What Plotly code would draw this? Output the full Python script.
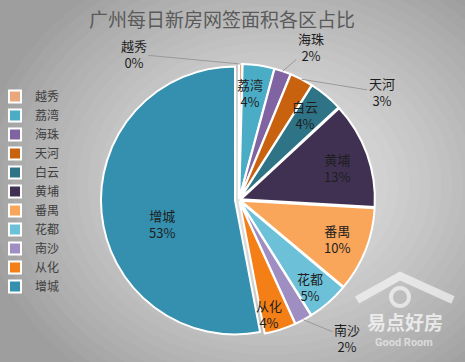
import math
import plotly.graph_objects as go

# ---- data ----
districts = ["越秀", "荔湾", "海珠", "天河", "白云", "黄埔", "番禺", "花都", "南沙", "从化", "增城"]
shares = [0.4, 3.8, 2.0, 2.8, 4.1, 12.8, 10.2, 5.0, 2.1, 3.8, 53.0]
colors = ["#E8A87C", "#4BACC6", "#8064A2", "#C8620F", "#2E7486", "#403152",
          "#F9A65A", "#6CC1D8", "#9F8EC2", "#F57F17", "#3490AE"]
title_text = "广州每日新房网签面积各区占比"

# ---- layout geometry / styling ----
W, H = 465, 362
CX, CY = 239, 200          # pie centre in px (from top-left)
R = 134                    # pie radius in px
MAXPULL = 0.03
pulls = [0.03 if d == "增城" else 0.015 for d in districts]
half = R * (1 + MAXPULL)
dom_x = [(CX - half) / W, (CX + half) / W]
dom_y = [1 - (CY + half) / H, 1 - (CY - half) / H]

# label placement: (radius fraction, angle offset deg) for inside labels
inside_place = {"荔湾": (0.80, -2.4), "白云": (0.80, -2), "黄埔": (0.77, 2), "番禺": (0.79, 0),
                "花都": (0.84, 2), "从化": (0.88, 3), "增城": (0.60, -12)}
# outside labels: pixel offset of text from slice edge
outside_place = {"越秀": (-107, -10), "海珠": (28, -24), "天河": (80, 13), "南沙": (44, 18)}

total = sum(shares)
fig = go.Figure()

# background radial gradient
fig.add_shape(type="rect", xref="paper", yref="paper", x0=0, x1=1, y0=0, y1=1,
              fillcolor="#9E9E9E", line_width=0, layer="below")
gx, gy, rx, ry = 270, 185, 300, 250
N = 28
for i in range(N):
    t = 1 - i / N
    c0, c1 = 0xE4, 0x9E
    v = int(round(c1 + (c0 - c1) * (1 - t ** 1.4)))
    col = "#%02X%02X%02X" % (v, v, v)
    fig.add_shape(type="circle", xref="paper", yref="paper",
                  x0=(gx - rx * t) / W, x1=(gx + rx * t) / W,
                  y0=1 - (gy + ry * t) / H, y1=1 - (gy - ry * t) / H,
                  fillcolor=col, line_width=0, layer="below")

# watermark logo (roof + eye)
roof = [(357, 300), (400, 276), (453, 300)]
path = "M " + " L ".join(f"{x / W},{1 - y / H}" for x, y in roof)
fig.add_shape(type="path", xref="paper", yref="paper", path=path,
              line=dict(color="rgba(255,255,255,0.6)", width=8), layer="above")
fig.add_shape(type="circle", xref="paper", yref="paper",
              x0=391 / W, x1=409 / W, y0=1 - 306 / H, y1=1 - 288 / H,
              line=dict(color="rgba(255,255,255,0.6)", width=4), layer="above")

fig.add_trace(go.Pie(
    labels=districts, values=shares, sort=False, direction="clockwise", rotation=0,
    marker=dict(colors=colors, line=dict(color="#FFFFFF", width=2)),
    pull=pulls, textinfo="none", hoverinfo="label+percent",
    domain=dict(x=dom_x, y=dom_y), showlegend=True,
))

annotations = []
cum = 0.0
for name, v in zip(districts, shares):
    mid = (cum + v / 2) / total * 360.0
    cum += v
    pct = f"{round(v / total * 100)}%"
    txt = f"{name}<br>{pct}"
    if name in inside_place:
        rf, dth = inside_place[name]
        a = math.radians(mid + dth)
        px = CX + rf * R * math.sin(a)
        py = CY - rf * R * math.cos(a)
        annotations.append(dict(x=px / W, y=1 - py / H, xref="paper", yref="paper",
                                xanchor="center", yanchor="middle",
                                text=txt, showarrow=False,
                                font=dict(size=13, color="#1E1E1E",
                                          family="Noto Sans CJK SC")))
    else:
        ox, oy = outside_place[name]
        a = math.radians(mid)
        p = districts.index(name)
        rr = R * (1 + pulls[p])
        px = CX + rr * math.sin(a)
        py = CY - rr * math.cos(a)
        annotations.append(dict(x=px / W, y=1 - py / H, xref="paper", yref="paper",
                                text=txt, showarrow=True, arrowhead=0, arrowwidth=1,
                                arrowcolor="#9A9A9A", ax=ox, ay=oy, standoff=0,
                                font=dict(size=13, color="#1E1E1E",
                                          family="Noto Sans CJK SC")))

# watermark text
annotations.append(dict(x=405 / W, y=1 - 321 / H, xref="paper", yref="paper",
                        xanchor="center", yanchor="middle",
                        text="<b>易点好房</b>", showarrow=False, opacity=0.7,
                        font=dict(size=19, color="#FFFFFF", family="Noto Sans CJK SC")))
annotations.append(dict(x=404 / W, y=1 - 342 / H, xref="paper", yref="paper",
                        xanchor="center", yanchor="middle",
                        text="<b>Good Room</b>", showarrow=False, opacity=0.7,
                        font=dict(size=11, color="#EDEDED", family="Roboto")))

fig.update_layout(
    width=W, height=H, margin=dict(l=0, r=0, t=0, b=0, autoexpand=False),
    paper_bgcolor="#B5B5B5", plot_bgcolor="rgba(0,0,0,0)",
    title=dict(text=title_text, x=222 / W, xanchor="center", y=1 - 20 / H, yanchor="middle",
               font=dict(size=19, color="#5A5A5A", family="Noto Sans CJK SC")),
    legend=dict(x=-5 / W, xanchor="left", y=1 - 82 / H, yanchor="top",
                bgcolor="rgba(0,0,0,0)", font=dict(size=12, color="#404040",
                                                    family="Noto Sans CJK SC"),
                itemclick=False),
    annotations=annotations,
)

fig.write_html("out.html", config={"displayModeBar": False},
               post_script="document.body.style.margin='0';document.body.style.overflow='hidden';")
